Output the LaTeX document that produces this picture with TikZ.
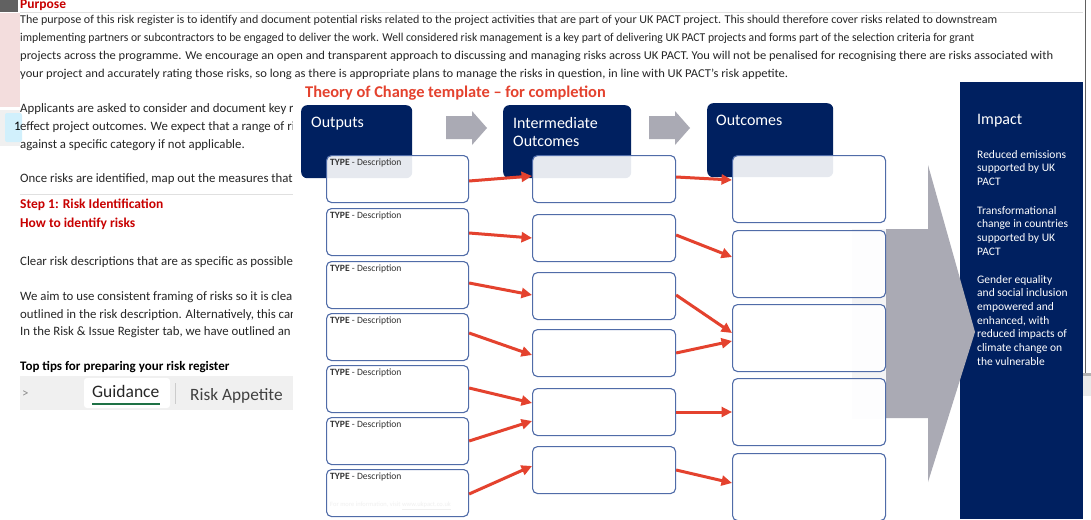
\documentclass[tikz,border=0pt]{standalone}
\usepackage{fontspec}
\setmainfont{Carlito}
\usetikzlibrary{arrows.meta,positioning}

\definecolor{pactnavy}{RGB}{0,32,96}
\definecolor{pactred}{RGB}{228,66,46}
\definecolor{sheetred}{RGB}{200,0,0}
\definecolor{boxline}{RGB}{80,108,168}
\definecolor{bigarrow}{RGB}{170,170,180}
\definecolor{sheetpink}{RGB}{243,221,221}
\definecolor{tabgray}{RGB}{240,240,240}
\definecolor{tabgreen}{RGB}{30,113,69}

% stretch one spreadsheet line to the width it has on screen
\newcommand{\fitline}[2]{\resizebox{#1}{\height}{#2}}

\begin{document}
\begin{tikzpicture}[x=1pt,y=-1pt,font={\fontsize{12.8}{14}\selectfont},
  sheettext/.style={anchor=west,inner sep=0pt,text=black!85},
  sheethead/.style={sheettext,text=sheetred,font={\fontsize{13.5}{14}\selectfont\bfseries}},
  headbox/.style={fill=pactnavy,rounded corners=6pt,anchor=north west,inner sep=0pt},
  headtext/.style={anchor=north west,inner sep=0pt,text=white,align=left,
    font={\fontsize{16}{18}\selectfont}},
  descbox/.style={draw=boxline,line width=1.1pt,fill=white,fill opacity=0.9,
    rounded corners=5pt,anchor=north west,minimum height=47pt,inner sep=0pt},
  typetag/.style={anchor=west,inner sep=0pt,font={\fontsize{9.6}{10}\selectfont},text=black!80},
  linkarrow/.style={draw=pactred,line width=3pt,-{Triangle[length=10.5pt,width=10pt]}},
  impacttext/.style={anchor=north west,inner sep=0pt,text=white,align=left,
    font={\fontsize{11.5}{13.7}\selectfont}}]
\useasboundingbox (0,0) rectangle (1091,519);

% spreadsheet behind
\fill[white] (0,0) rectangle (1091,519);
\fill[black!62] (0,0) rectangle (18,12);
\fill[sheetpink] (0,13) rectangle (20,107);
\fill[tabgray] (0,110) rectangle (20,146);
\fill[cyan!18!white,rounded corners=2pt] (5,113) rectangle (22,142);
\node[anchor=west,inner sep=0pt,font={\fontsize{13}{14}\selectfont}] at (14,126) {1};
\draw[black!12] (20,12.5) -- (1083,12.5);
\draw[black!12] (20,194) -- (293,194);

\node[sheethead] at (20,5) {Purpose};
\node[sheettext,font={\fontsize{12}{14}\selectfont}] at (20,20) {\fitline{977pt}{The purpose of this risk register is to identify and document potential risks related to the project activities that are part of your UK PACT project. This should therefore cover risks related to downstream}};
\node[sheettext,font={\fontsize{12}{14}\selectfont}] at (20,38) {\fitline{954pt}{implementing partners or subcontractors to be engaged to deliver the work. Well considered risk management is a key part of delivering UK PACT projects and forms part of the selection criteria for grant}};
\node[sheettext,font={\fontsize{12}{14}\selectfont}] at (20,56) {\fitline{1033pt}{projects across the programme. We encourage an open and transparent approach to discussing and managing risks across UK PACT. You will not be penalised for recognising there are risks associated with}};
\node[sheettext,font={\fontsize{12}{14}\selectfont}] at (20,74) {\fitline{768pt}{your project and accurately rating those risks, so long as there is appropriate plans to manage the risks in question, in line with UK PACT's risk appetite.}};
\node[sheettext] at (20,109) {Applicants are asked to consider and document key ri};
\node[sheettext] at (20,127) {effect project outcomes. We expect that a range of risl};
\node[sheettext] at (20,145) {against a specific category if not applicable.};
\node[sheettext] at (20,179) {Once risks are identified, map out the measures that c};
\node[sheethead] at (20,205) {Step 1: Risk Identification};
\node[sheethead] at (20,224) {How to identify risks};
\node[sheettext] at (20,262) {Clear risk descriptions that are as specific as possible};
\node[sheettext] at (20,297) {We aim to use consistent framing of risks so it is clear};
\node[sheettext] at (20,315) {outlined in the risk description. Alternatively, this can};
\node[sheettext] at (20,332) {In the Risk \& Issue Register tab, we have outlined an e};
\node[sheettext,text=black,font={\fontsize{13}{14}\selectfont\bfseries}] at (20,367) {Top tips for preparing your risk register};

% sheet tabs
\fill[tabgray] (20,376) rectangle (293,410);
\node[anchor=west,inner sep=0pt,text=black!45,font={\fontsize{13}{13}\selectfont}] at (22,394) {>};
\fill[white,rounded corners=3pt] (84,378) rectangle (170,408);
\node[anchor=west,inner sep=0pt,text=black!85,font={\fontsize{17.5}{18}\selectfont}] (guide) at (92,391) {Guidance};
\draw[tabgreen,line width=2.2pt] (guide.west |- 0,404) -- (guide.east |- 0,404);
\draw[black!20] (175,383) -- (175,404);
\node[anchor=west,inner sep=0pt,text=black!75,font={\fontsize{17.3}{18}\selectfont}] at (190,396) {Risk Appetite};

% theory of change overlay
\fill[white] (293,83) rectangle (960,519);
\fill[black!62] (1084.5,0) rectangle (1086,373);
\fill[black!30] (1083,373) rectangle (1091,396);
\fill[black!8] (1083,376) rectangle (1091,396);
\node[anchor=west,inner sep=0pt,text=pactred,font={\fontsize{16.4}{18}\selectfont\bfseries}] at (305,93) {Theory of Change template -- for completion};

\node[headbox,minimum width=111pt,minimum height=73pt] (outputs) at (301,105) {};
\node[headbox,minimum width=128pt,minimum height=73pt] (inter) at (503,105) {};
\node[headbox,minimum width=126pt,minimum height=74pt] (outcomes) at (707,103) {};
\node[headtext] at ([xshift=10pt,yshift=-12pt]outputs.north west) {Outputs};
\node[headtext] at ([xshift=10pt,yshift=-12pt]inter.north west) {Intermediate\\Outcomes};
\node[headtext] at ([xshift=9pt,yshift=-12pt]outcomes.north west) {Outcomes};

% grey block arrows between headings
\foreach \ax in {446,649}
  \fill[bigarrow] (\ax,116) -- (\ax+26,116) -- (\ax+26,111) -- (\ax+41,128)
    -- (\ax+26,145) -- (\ax+26,139) -- (\ax,139) -- cycle;

% impact column
\fill[pactnavy] (960,82) rectangle (1083,519);
\fill[bigarrow] (852,229) -- (928,229) -- (928,165) -- (975,332) -- (928,482)
  -- (928,418) -- (852,418) -- cycle;
\fill[white,opacity=0.88] (852,229) rectangle (886,418);
\node[headtext] (impact) at (977,114) {Impact};
\node[impacttext] at (977,150) {Reduced emissions\\supported by UK\\PACT};
\node[impacttext] at (977,206) {Transformational\\change in countries\\supported by UK\\PACT};
\node[impacttext] at (977,275) {Gender equality\\and social inclusion\\empowered and\\enhanced, with\\reduced impacts of\\climate change on\\the vulnerable};

% boxes
\foreach \i/\y in {1/155,2/208,3/261,4/313,5/365,6/417,7/469}{
  \node[descbox,minimum width=142pt] (out\i) at (326,\y) {};
  \node[typetag] at ([xshift=4pt,yshift=-8pt]out\i.north west) {\textbf{TYPE} - Description};
}
\node[typetag,text=black!6,font={\fontsize{6.5}{7}\selectfont}] at ([xshift=4pt,yshift=11pt]out7.south west) {For more information, visit \underline{www.ukpact.co.uk}};
\foreach \i/\y in {1/155,2/214,3/272,4/329,5/388,6/446}
  \node[descbox,minimum width=143pt] (mid\i) at (532,\y) {};
\foreach \i/\y in {1/155,2/230,3/304,4/378,5/453}
  \node[descbox,minimum width=153pt,minimum height=67pt] (res\i) at (732,\y) {};

% links outputs -> intermediate outcomes
\draw[linkarrow] ([yshift=-26pt]out1.north east) -- ([yshift=-21pt]mid1.north west);
\draw[linkarrow] ([yshift=-25pt]out2.north east) -- ([yshift=-24pt]mid2.north west);
\draw[linkarrow] ([yshift=-22pt]out3.north east) -- ([yshift=-23pt]mid3.north west);
\draw[linkarrow] ([yshift=-20pt]out4.north east) -- ([yshift=-26pt]mid4.north west);
\draw[linkarrow] ([yshift=-23pt]out5.north east) -- ([yshift=-15pt]mid5.north west);
\draw[linkarrow] ([yshift=-24pt]out6.north east) -- ([yshift=-33pt]mid5.north west);
\draw[linkarrow] ([yshift=-25pt]out7.north east) -- ([yshift=-20pt]mid6.north west);

% links intermediate outcomes -> outcomes
\draw[linkarrow] ([yshift=-22pt]mid1.north east) -- ([yshift=-25pt]res1.north west);
\draw[linkarrow] ([yshift=-21pt]mid2.north east) -- ([yshift=-27pt]res2.north west);
\draw[linkarrow] ([yshift=-23pt]mid3.north east) -- ([yshift=-29pt]res3.north west);
\draw[linkarrow] ([yshift=-24pt]mid4.north east) -- ([yshift=-37pt]res3.north west);
\draw[linkarrow] ([yshift=-24pt]mid5.north east) -- ([yshift=-34pt]res4.north west);
\draw[linkarrow] ([yshift=-24pt]mid6.north east) -- ([yshift=-30pt]res5.north west);
\end{tikzpicture}
\end{document}
